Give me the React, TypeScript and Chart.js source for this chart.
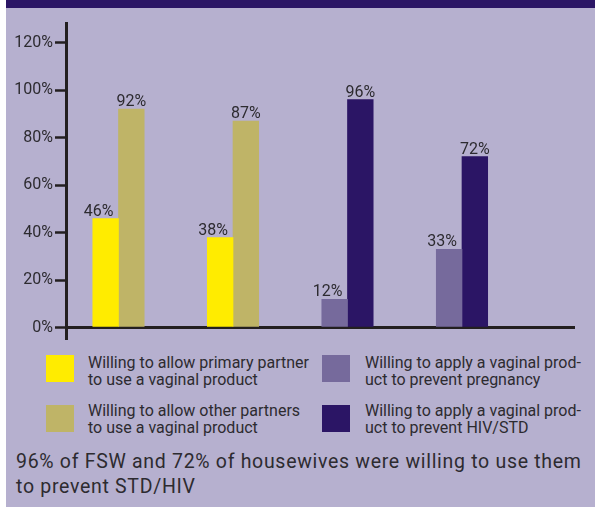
import React, { useEffect, useRef } from "react";
import { Chart, registerables } from "chart.js";

Chart.register(...registerables);

// ---- data ----
const groupIndex = [1, 2, 3, 4];
const groupNames = ["FSW", "Housewives", "FSW", "Housewives"];
const primaryPartner: (number | null)[] = [46, 38, null, null];
const otherPartners: (number | null)[] = [92, 87, null, null];
const preventPregnancy: (number | null)[] = [null, null, 12, 33];
const preventHIV: (number | null)[] = [null, null, 96, 72];
const yTickStep = 20;
const yTickMaxLabel = 120;

const seriesNames = [
  ["Willing to allow primary partner", "to use a vaginal product"],
  ["Willing to allow other partners", "to use a vaginal product"],
  ["Willing to apply a vaginal prod-", "uct to prevent pregnancy"],
  ["Willing to apply a vaginal prod-", "uct to prevent HIV/STD"],
];
const footnote = [
  "96% of FSW and 72% of housewives were willing to use them",
  "to prevent STD/HIV",
];

// ---- styles ----
const BG = "#B6B0CF";
const BAND = "#2B1565";
const DARK = "#231F20";
const TEXT = "#2D2B30";
const COLORS = ["#FFEC00", "#BFB467", "#766A9C", "#2B1565"];
const FONT = "Roboto, 'Noto Sans', sans-serif";

const valueLabels = {
  id: "valueLabels",
  afterDatasetsDraw(chart: any) {
    const ctx = chart.ctx;
    ctx.save();
    ctx.font = `16px ${FONT}`;
    ctx.fillStyle = TEXT;
    ctx.textBaseline = "alphabetic";
    chart.data.datasets.forEach((ds: any, di: number) => {
      const meta = chart.getDatasetMeta(di);
      meta.data.forEach((el: any, i: number) => {
        const v = ds.data[i].y;
        if (v == null) return;
        const first = di === 0 || di === 2;
        if (first) {
          ctx.textAlign = "right";
          ctx.fillText(`${v}%`, el.x + el.width / 2 - 5, el.y - 3);
        } else {
          ctx.textAlign = "center";
          ctx.fillText(`${v}%`, el.x, el.y - 3);
        }
      });
    });
    ctx.restore();
  },
};

function toPoints(values: (number | null)[]) {
  return groupIndex.map((g, i) => ({ x: g, y: values[i], name: groupNames[i] }));
}

function BarChart() {
  const ref = useRef<HTMLCanvasElement | null>(null);
  useEffect(() => {
    if (!ref.current) return;
    const series = [primaryPartner, otherPartners, preventPregnancy, preventHIV];
    const chart = new Chart(ref.current, {
      type: "bar",
      data: {
        datasets: series.map((s, i) => ({
          label: seriesNames[i].join(" "),
          data: toPoints(s) as any,
          backgroundColor: COLORS[i],
          borderWidth: 0,
          barThickness: 25.7,
          skipNull: true,
          grouped: true,
        })),
      },
      options: {
        responsive: false,
        animation: false,
        layout: { padding: { left: 0, right: 20, top: 23, bottom: 7 } },
        plugins: { legend: { display: false }, tooltip: { enabled: false } },
        scales: {
          x: {
            type: "linear",
            display: false,
            offset: false,
            min: 0.5415,
            max: 4.987,
          },
          y: {
            min: -4.4,
            max: 128.2,
            z: 1,
            afterFit: (s: any) => {
              s.width = 66;
            },
            border: { display: true, color: DARK, width: 3 },
            grid: {
              color: (c: any) => (c.tick && c.tick.value === 0 ? DARK : "rgba(0,0,0,0)"),
              lineWidth: 3,
              tickColor: DARK,
              tickWidth: 2.5,
              tickLength: 11,
              drawOnChartArea: true,
              drawTicks: true,
            },
            ticks: {
              stepSize: yTickStep,
              includeBounds: false,
              padding: 2,
              color: TEXT,
              font: { family: FONT, size: 16 },
              callback: (v: any) => (v <= yTickMaxLabel ? `${v}%` : ""),
            },
          },
        },
      },
      plugins: [valueLabels],
    });
    return () => chart.destroy();
  }, []);
  return (
    <canvas
      ref={ref}
      width={595}
      height={350}
      style={{ position: "absolute", left: 0, top: 0, width: 595, height: 350, display: "block" }}
    />
  );
}

export default function App() {
  const legendPos = [
    { sq: [46, 355], tx: [88, 353.8] },
    { sq: [46, 405], tx: [88, 401.8] },
    { sq: [322, 355], tx: [365, 353.8] },
    { sq: [322, 405], tx: [365, 401.8] },
  ];
  return (
    <div
      style={{
        position: "fixed",
        left: 0,
        top: 0,
        width: 595,
        height: 507,
        background: "#FFFFFF",
        overflow: "hidden",
        fontFamily: FONT,
      }}
    >
      <div style={{ position: "absolute", left: 6, top: 0, width: 589, height: 507, background: BG }} />
      <div style={{ position: "absolute", left: 6, top: 0, width: 589, height: 7.5, background: BAND }} />
      <BarChart />
      {legendPos.map((p, i) => (
        <React.Fragment key={i}>
          <div
            style={{
              position: "absolute",
              left: p.sq[0],
              top: p.sq[1],
              width: 28,
              height: 27,
              background: COLORS[i],
            }}
          />
          <div
            style={{
              position: "absolute",
              left: p.tx[0],
              top: p.tx[1],
              fontSize: 16,
              lineHeight: "17.5px",
              color: TEXT,
              whiteSpace: "nowrap",
            }}
          >
            {seriesNames[i].map((l, j) => (
              <div key={j}>{l}</div>
            ))}
          </div>
        </React.Fragment>
      ))}
      <div
        style={{
          position: "absolute",
          left: 16,
          top: 449,
          fontSize: 19.5,
          letterSpacing: "0.7px",
          lineHeight: "25px",
          color: TEXT,
          whiteSpace: "nowrap",
        }}
      >
        {footnote.map((l, j) => (
          <div key={j}>{l}</div>
        ))}
      </div>
    </div>
  );
}
